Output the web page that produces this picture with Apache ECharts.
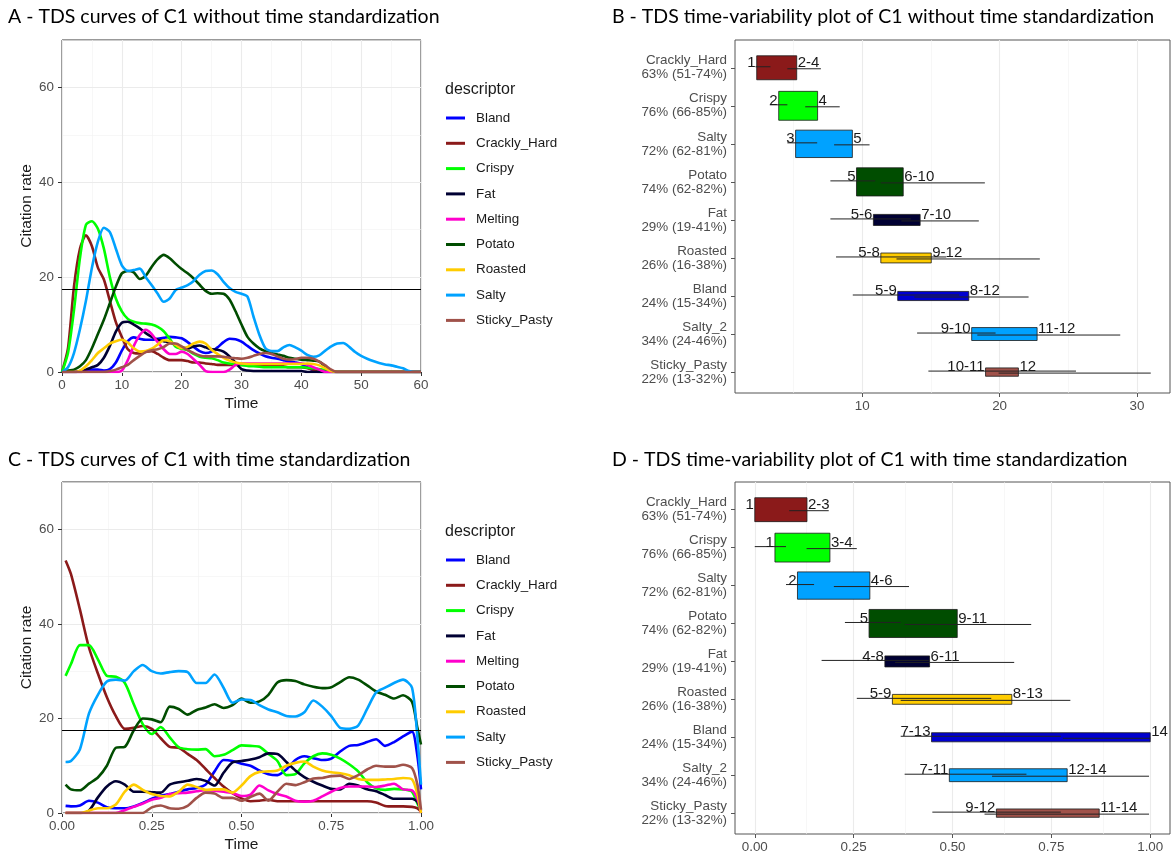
<!DOCTYPE html>
<html><head><meta charset="utf-8">
<script src="https://cdn.jsdelivr.net/npm/echarts@6/dist/echarts.min.js"></script>
<style>html,body{margin:0;padding:0;background:#fff}#c{width:1172px;height:854px}</style>
</head><body><div id="c"></div>
<script>
// ---------- Panel A / C : TDS curves ----------
const descriptors = ['Bland','Crackly_Hard','Crispy','Fat','Melting','Potato','Roasted','Salty','Sticky_Pasty'];

const timesA = [0,1,2,3,4,5,6,7,8,9,10,11,12,13,14,15,16,17,18,19,20,21,22,23,24,25,26,27,28,29,30,31,32,33,34,35,36,37,38,39,40,41,42,43,44,45,46,47,48,49,50,51,52,53,54,55,56,57,58,59,60];
const aBland = [0,0,0,0,0.3,0.5,0.5,0.3,0.6,2, 4.5,6.5,7.3,7,6.8,6.8,7,7.2,7.4,7.3, 7.1,6.3,5.3,4.4,4,4.3,5.2,6.3,7,6.9, 6.4,5.5,4.6,3.9,3.3,3,2.8,2.5,2.2,2, 1.7,1,0.3,0,0,0,0,0,0,0, 0,0,0,0,0,0,0,0,0,0,0];
const aCrackly = [0,5,18,26,28.8,26.5,22,19.5,15,10.5, 7.4,4.8,4,3.9,4.3,4.4,3.8,3,2.5,2.5, 2.5,2.3,2,2,1.8,1.7,1.5,1.5,1.5,1.5, 1.5,1.5,1.5,1.5,1.5,1.5,1.3,1.2,1,1, 1,0.8,0.5,0.3,0,0,0,0,0,0, 0,0,0,0,0,0,0,0,0,0,0];
const aCrispy = [0,4,13,24,31,31.8,30.2,26,20,15.5, 12.8,11.2,10.6,10.3,10.2,10,9.5,8.6,7,5.3, 4.9,4.6,3.8,3.2,3,2.9,2.5,2,1.8,1.6, 1.5,1.3,1.2,1.1,1,1,1,1,1,1, 1,0.9,0.8,0.6,0.4,0.2,0,0,0,0, 0,0,0,0,0,0,0,0,0,0,0];
const aFat = [0,0,0,0.2,0.5,1,1.5,3,5.5,8.5, 10.4,10.6,10,9.2,8.2,7.4,6.8,6.5,6.2,5.8, 5.2,5,5.4,5.6,5.2,4.8,4.7,4.3,3.3,2, 0.6,0.3,0.2,0.2,0.2,0.2,0.2,0.2,0.2,0.2, 0.2,0,0,0,0,0,0,0,0,0, 0,0,0,0,0,0,0,0,0,0,0];
const aMelting = [0,0,0,0,0,0,0,0,0,0, 0.3,2.5,5.5,7.8,8.9,8,6.3,4.8,3.8,3.8, 4.3,3.8,2.7,1.5,0.2,0,0,0,0.5,1.5, 1.8,1.8,1.8,1.8,1.8,1.8,1.8,1.8,1.8,1.8, 1.8,1.5,1,0.5,0,0,0,0,0,0, 0,0,0,0,0,0,0,0,0,0,0];
const aPotato = [0,0.3,0.5,1.2,2.5,5,8,11,14.5,18, 20.8,21.3,21,19.6,20.3,22.2,23.8,24.7,24,22.8, 21.7,20.8,19.7,18.4,17.1,16.5,16.6,16.5,15.3,12.8, 10,7.4,6,5,4.4,4,3.7,3.4,3,2.8, 2.6,2.5,2.4,2.2,1.2,0.3,0,0,0,0, 0,0,0,0,0,0,0,0,0,0,0];
const aRoasted = [0,0,0,0.3,1.2,2.5,4,5,6,6.5, 6.8,6.2,5,4.3,4.4,4.9,5.8,6.7,6.5,5.7, 5,5.3,6,6.4,6,4.7,3.8,3,2.4,2, 1.8,1.7,1.7,1.7,1.7,1.7,1.7,1.7,1.7,1.7, 1.7,1.8,1.7,1.4,0.8,0.2,0,0,0,0, 0,0,0,0,0,0,0,0,0,0,0];
const aSalty = [0,1,4,9,15,22,27.5,30.4,29.5,26, 22.5,21.3,21.5,21.8,20,18.3,16.5,14.8,15.5,17.3, 17.8,18.3,19.2,20.5,21.3,21.4,20.6,19,17.7,16.9, 16.5,15.9,11.7,7.8,5,4.4,4.4,5.2,5.7,5.2, 4.5,3.6,3.2,3.5,4.5,5.4,6,6.1,5.3,4.2, 3.4,2.8,2.3,1.9,1.6,1.4,1.1,0.8,0.2,0,0];
const aSticky = [0,0,0,0,0,0,0,0,0.2,0.5, 1,1.5,2.5,3.4,4.2,4.6,4.8,5.3,6,6, 5.4,4.6,4,3.5,3.3,3.3,3.3,3.2,3,2.9, 2.8,3,3.4,3.8,4,3.8,3.3,2.8,2.6,2.7, 3,3,2.8,2.2,1.4,0.5,0,0,0,0, 0,0,0,0,0,0,0,0,0,0,0];

const timesC = [0.01,0.025,0.05,0.075,0.1,0.125,0.15,0.175,0.2,0.225,0.25,0.275,0.3,0.325,0.35,0.375,0.4,0.425,0.45,0.475,0.5,0.525,0.55,0.575,0.6,0.625,0.65,0.675,0.7,0.725,0.75,0.775,0.8,0.825,0.85,0.875,0.9,0.925,0.95,0.975,0.99,1];
const cBland = [1.5,1.4,1.6,2.6,2.2,1.2,1,1,1.4,2.1, 3,3.7,4,4.5,5,5.3,6,8.8,11.2,11, 10.4,10,9,8.2,8,9.2,11.2,12,11.6,11.2, 11.5,13,14.2,14.4,15,15.6,14.2,15,16.2,17.2, 12,5];
const cCrackly = [53.4,50.5,43,35,29.5,24.5,20.5,17.8,18,18.4, 17.8,15.8,14,13.8,12.5,11.2,9.3,7.4,5.6,4.2, 3.1,2.5,2.6,2.8,2.5,2.5,2.5,2.5,2.5,2.5, 2.5,2.5,2.5,2.5,2.5,2.2,1.5,1.4,1.4,1.3, 1,0.3];
const cCrispy = [29,31.5,35.5,35.5,32.5,29,28.8,27.5,23,18.8, 16.7,18.2,16,13.9,13.5,13.4,13.5,12,12.3,13.3, 14.3,14.2,14,12.5,11,8,8.2,10.5,12,12.6, 12.3,11.5,10.3,8.8,6.5,5.2,4.9,5.1,5,4.5, 2,0.5];
const cFat = [0,0,0,0.5,3.3,5.6,6.7,6,4.5,4.5, 4.4,4.3,6,6.5,6.8,7.2,6.8,5.8,8.5,10.7, 11,11.3,11.8,12.6,12.5,10.8,9,7.6,6.6,5.8, 5.1,5,6.2,5.8,5,4.6,3.8,3,3,3, 2.4,0.5];
const cMelting = [0,0,0,0,0,0,0,0.6,1.3,2, 2.8,3.2,4,4.2,4.3,4.6,4.8,4.7,4.5,4.2, 3.6,3.9,5.8,4.8,4,3.5,2.6,2.4,2.6,3.5, 4.5,5.3,5.6,5.6,5.6,5.5,5.8,6.2,5,4.8, 3,0];
const cPotato = [6,5,4.8,6.2,7.5,10,13.8,14,17.5,20, 19.8,19.2,22.5,22,20.8,21.8,22.3,23,22.2,22.8, 24.2,23.3,23.6,25,27.6,28.1,27.9,27.2,26.7,26.4, 26.6,27.7,28.7,28.2,27,25.7,25,24.2,24.9,23.5, 18,14.5];
const cRoasted = [0,0,0,0.5,1,1,1.8,4.5,6,4.9, 4,3.6,3.5,4.5,6,5.5,4.9,5,5,4.3, 5.8,7.8,8.7,8.8,9,10,10.6,10.9,9.8,9, 8.6,8.4,8,7.2,7,7,7.1,7.2,7.4,7.1, 4,0];
const cSalty = [10.8,11,13.5,21,25,27.8,28.2,28,30,31.3, 30,29.5,29.8,30,29.8,27.5,27.5,29.3,26.5,23.3, 24,23.9,22.8,21.9,21.3,20.5,20.4,21.3,23.8,22.5, 20.5,18,17.8,18.5,22,25.5,26.5,27.5,28.2,26.5, 16,6];
const cSticky = [0,0,0,0,0,0,0,0,0,0, 1.2,1.6,1,0.9,1.5,3.2,4.3,4.1,3.2,3.2, 2.6,3.4,4.1,2.6,4.5,6.2,5.9,6.5,7.3,7.4, 7.8,7.9,7.2,8,9.2,10,9.8,9.8,10.2,9.5, 6,0.7];

const significanceLevel = 17.4;

// tick values
const ticksAx = [0,10,20,30,40,50,60];
const minorAx = [5,15,25,35,45,55];
const ticksCx = [0,0.25,0.5,0.75,1];
const minorCx = [0.125,0.375,0.625,0.875];
const ticksY = [0,20,40,60];
const minorY = [10,30,50,70];
const ticksBx = [10,20,30];
const minorBx = [5,15,25];
const ticksDx = [0,0.25,0.5,0.75,1];
const minorDx = [0.125,0.375,0.625,0.875];

// ---------- Panel B / D : time-variability ----------
const rowNames = ['Crackly_Hard','Crispy','Salty','Potato','Fat','Roasted','Bland','Salty_2','Sticky_Pasty'];
const rowIndex = [0,1,2,3,4,5,6,7,8];
const rowRates = [63,76,72,74,29,26,24,34,22];
const rowCI = ['51-74','66-85','62-81','62-82','19-41','16-38','15-34','24-46','13-32'];

const bBoxStart = [2.33,3.93,5.16,9.59,10.82,11.36,12.59,17.97,18.98];
const bBoxEnd   = [5.24,6.76,9.29,12.99,14.22,15.03,17.76,22.73,21.37];
const bStartLo  = [2.24,3.28,4.56,7.69,7.69,8.10,9.32,14.0,14.82];
const bStartHi  = [3.33,4.56,6.73,10.95,13.54,16.12,17.07,19.71,25.56];
const bEndLo    = [4.56,5.86,7.96,11.36,12.86,12.5,13.8,18.38,19.93];
const bEndHi    = [7.0,8.37,10.54,18.93,18.49,22.93,22.11,28.78,31.0];
const bLabelLeft  = ['1','2','3','5','5-6','5-8','5-9','9-10','10-11'];
const bLabelRight = ['2-4','4','5','6-10','7-10','9-12','8-12','11-12','12'];

const dBoxStart = [0.0,0.051,0.108,0.289,0.329,0.348,0.447,0.492,0.611];
const dBoxEnd   = [0.132,0.19,0.291,0.512,0.442,0.65,1.0,0.79,0.871];
const dStartLo  = [0.0,0.0,0.079,0.228,0.169,0.258,0.369,0.379,0.449];
const dStartHi  = [0.0,0.079,0.15,0.369,0.44,0.598,0.774,0.687,0.774];
const dEndLo    = [0.087,0.131,0.20,0.379,0.355,0.369,0.779,0.60,0.581];
const dEndHi    = [0.187,0.258,0.39,0.699,0.656,0.798,1.0,0.997,0.997];
const dLabelLeft  = ['1','1','2','5','4-8','5-9','7-13','7-11','9-12'];
const dLabelRight = ['2-3','3-4','4-6','9-11','6-11','8-13','14','12-14','11-14'];

// ---------- styles ----------
const colorMap = {
  Bland:'#0000FF', Crackly_Hard:'#8B1A1A', Crispy:'#00FF00', Fat:'#000033', Melting:'#FF00CC',
  Potato:'#004D00', Roasted:'#FFCC00', Salty:'#00A2FF', Sticky_Pasty:'#A0524A'
};
const rowColors = ['#8B1A1A','#00FF00','#00A2FF','#004D00','#000033','#FFCC00','#0000D0','#00A2FF','#A0524A'];
const FONT = '"Liberation Sans", Arial, sans-serif';

const seriesA = [aBland,aCrackly,aCrispy,aFat,aMelting,aPotato,aRoasted,aSalty,aSticky];
const seriesC = [cBland,cCrackly,cCrispy,cFat,cMelting,cPotato,cRoasted,cSalty,cSticky];

function gridLines(idx, xMaj, xMin, yMaj, yMin) {
  const data = [];
  const minorStyle = {color:'#f2f2f2', width:0.6, type:'solid'};
  const majorStyle = {color:'#ebebeb', width:1.1, type:'solid'};
  xMin.forEach(v => data.push({xAxis:v, lineStyle:minorStyle}));
  yMin.forEach(v => data.push({yAxis:v, lineStyle:minorStyle}));
  xMaj.forEach(v => data.push({xAxis:v, lineStyle:majorStyle}));
  yMaj.forEach(v => data.push({yAxis:v, lineStyle:majorStyle}));
  return {type:'line', name:'_grid'+idx, xAxisIndex:idx, yAxisIndex:idx, data:[], silent:true, z:1,
    symbol:'none', lineStyle:{opacity:0},
    markLine:{z:1, silent:true, symbol:'none', animation:false, label:{show:false}, emphasis:{disabled:true}, data}};
}
function threshold(idx) {
  return {type:'line', name:'_thr'+idx, xAxisIndex:idx, yAxisIndex:idx, data:[], silent:true, z:6,
    symbol:'none', lineStyle:{opacity:0},
    markLine:{z:10, silent:true, symbol:'none', animation:false, label:{show:false}, emphasis:{disabled:true},
      data:[{yAxis:significanceLevel, lineStyle:{color:'#000', width:1, type:'solid'}}]}};
}
function curves(idx, times, arrs) {
  return descriptors.map((name, k) => ({
    type:'line', name, xAxisIndex:idx, yAxisIndex:idx, z:3, silent:true,
    data: times.map((t, i) => [t, arrs[k][i]]),
    symbol:'none', showSymbol:false, smooth:0.25,
    lineStyle:{width:2.6, color:colorMap[name]}, itemStyle:{color:colorMap[name]}
  }));
}
function makeRender(lefts, rights) {
  return function(params, api) {
    const i = params.dataIndex;
    const row = api.value(2);
    const a = api.coord([api.value(0), row]);
    const b = api.coord([api.value(1), row]);
    const rowH = api.size([1, 1])[1];
    const h = api.value(7) / 100 * rowH;
    const s0 = api.coord([api.value(3), row]);
    const s1 = api.coord([api.value(4), row]);
    const e0 = api.coord([api.value(5), row]);
    const e1 = api.coord([api.value(6), row]);
    const font = '15px ' + FONT;
    return {type:'group', children:[
      {type:'rect', shape:{x:a[0], y:a[1]-h/2, width:b[0]-a[0], height:h},
        style:{fill:rowColors[i], stroke:'#1a1a1a', lineWidth:0.8}},
      {type:'line', shape:{x1:s0[0], y1:s0[1]-1, x2:s1[0], y2:s1[1]-1}, style:{stroke:'#222', lineWidth:1}},
      {type:'line', shape:{x1:e0[0], y1:e0[1]+1, x2:e1[0], y2:e1[1]+1}, style:{stroke:'#222', lineWidth:1}},
      {type:'text', style:{text:lefts[i], x:a[0]-1, y:a[1]-5, align:'right', verticalAlign:'middle', font, fill:'#1a1a1a'}},
      {type:'text', style:{text:rights[i], x:b[0]+1, y:b[1]-5, align:'left', verticalAlign:'middle', font, fill:'#1a1a1a'}}
    ]};
  };
}
function rowData(bs, be, sl, sh, el, eh) {
  return rowIndex.map(i => [bs[i], be[i], i, sl[i], sh[i], el[i], eh[i], rowRates[i]]);
}

const axisLabelStyle = {fontFamily:FONT, fontSize:13.4, color:'#4d4d4d'};
function curveX(idx, min, max, ticks, fmt) {
  return {type:'value', gridIndex:idx, min, max, name:'Time', nameLocation:'middle', nameGap:24,
    nameTextStyle:{fontFamily:FONT, fontSize:15.5, color:'#1a1a1a'},
    axisLine:{show:false, onZero:false}, splitLine:{show:false},
    axisTick:{show:true, customValues:ticks, length:4, lineStyle:{color:'#333'}},
    axisLabel:Object.assign({customValues:ticks, margin:7, formatter:fmt}, axisLabelStyle)};
}
function curveY(idx) {
  return {type:'value', gridIndex:idx, min:0, max:70, name:'Citation rate', nameLocation:'middle', nameGap:27,
    nameTextStyle:{fontFamily:FONT, fontSize:15.5, color:'#1a1a1a'},
    axisLine:{show:false, onZero:false}, splitLine:{show:false},
    axisTick:{show:true, customValues:ticksY, length:4, lineStyle:{color:'#333'}},
    axisLabel:Object.assign({customValues:ticksY, margin:8}, axisLabelStyle)};
}
function rowX(idx, min, max, ticks, fmt) {
  return {type:'value', gridIndex:idx, min, max,
    axisLine:{show:false, onZero:false}, splitLine:{show:false},
    axisTick:{show:true, customValues:ticks, length:4, lineStyle:{color:'#555'}},
    axisLabel:Object.assign({customValues:ticks, margin:7, formatter:fmt}, axisLabelStyle)};
}
function rowY(idx) {
  return {type:'value', gridIndex:idx, inverse:true, min:-0.73, max:8.55,
    axisLine:{show:false, onZero:false}, splitLine:{show:false},
    axisTick:{show:true, customValues:rowIndex, length:4, lineStyle:{color:'#555'}},
    axisLabel:Object.assign({customValues:rowIndex, margin:8, lineHeight:14,
      formatter: v => rowNames[v] + '\n' + rowRates[v] + '% (' + rowCI[v] + '%)'}, axisLabelStyle)};
}
const legendBase = {orient:'vertical', data:descriptors, icon:'rect', itemWidth:19, itemHeight:3, itemGap:9.3,
  selectedMode:false, padding:0, textStyle:{fontFamily:FONT, fontSize:13.4, color:'#1a1a1a', lineHeight:16, padding:[0,0,0,6]}};
const titleStyle = {fontFamily:'Lato', fontSize:19.5, fontWeight:'normal', color:'#000'};

const option = {
  animation:false,
  backgroundColor:'#fff',
  textStyle:{fontFamily:FONT},
  title:[
    {text:'A - TDS curves of C1 without time standardization', left:8, top:7, textStyle:titleStyle, padding:0},
    {text:'B - TDS time-variability plot of C1 without time standardization', left:612, top:7, textStyle:titleStyle, padding:0},
    {text:'C - TDS curves of C1 with time standardization', left:8, top:450, textStyle:titleStyle, padding:0},
    {text:'D - TDS time-variability plot of C1 with time standardization', left:612, top:450, textStyle:titleStyle, padding:0},
    {text:'descriptor', left:445, top:82, padding:0, textStyle:{fontFamily:FONT, fontSize:16, fontWeight:'normal', color:'#1a1a1a'}},
    {text:'descriptor', left:445, top:524, padding:0, textStyle:{fontFamily:FONT, fontSize:16, fontWeight:'normal', color:'#1a1a1a'}}
  ],
  legend:[
    Object.assign({left:446, top:110}, legendBase),
    Object.assign({left:446, top:552}, legendBase)
  ],
  grid:[
    {left:62, top:40, width:359, height:332, show:true, borderColor:'#333', borderWidth:1, backgroundColor:'transparent'},
    {left:735, top:40, width:435, height:353, show:true, borderColor:'#555', borderWidth:1, backgroundColor:'transparent'},
    {left:62, top:482, width:359, height:331, show:true, borderColor:'#333', borderWidth:1, backgroundColor:'transparent'},
    {left:735, top:482, width:435, height:353, show:true, borderColor:'#555', borderWidth:1, backgroundColor:'transparent'}
  ],
  xAxis:[
    curveX(0, 0, 60, ticksAx, v => String(v)),
    rowX(1, 0.75, 32.4, ticksBx, v => String(v)),
    curveX(2, 0, 1, ticksCx, v => v.toFixed(2)),
    rowX(3, -0.05, 1.05, ticksDx, v => v.toFixed(2))
  ],
  yAxis:[curveY(0), rowY(1), curveY(2), rowY(3)],
  series:[
    gridLines(0, ticksAx, minorAx, ticksY, minorY),
    gridLines(1, ticksBx, minorBx, [], []),
    gridLines(2, ticksCx, minorCx, ticksY, minorY),
    gridLines(3, ticksDx, minorDx, [], []),
    ...curves(0, timesA, seriesA),
    ...curves(2, timesC, seriesC),
    threshold(0), threshold(2),
    {type:'custom', name:'_B', xAxisIndex:1, yAxisIndex:1, z:4, silent:true, clip:false,
      data:rowData(bBoxStart,bBoxEnd,bStartLo,bStartHi,bEndLo,bEndHi),
      encode:{x:[0,1], y:2}, renderItem:makeRender(bLabelLeft,bLabelRight)},
    {type:'custom', name:'_D', xAxisIndex:3, yAxisIndex:3, z:4, silent:true, clip:false,
      data:rowData(dBoxStart,dBoxEnd,dStartLo,dStartHi,dEndLo,dEndHi),
      encode:{x:[0,1], y:2}, renderItem:makeRender(dLabelLeft,dLabelRight)}
  ]
};
const chart = echarts.init(document.getElementById('c'), null, {renderer:'canvas'});
chart.setOption(option);
</script>
</body></html>
